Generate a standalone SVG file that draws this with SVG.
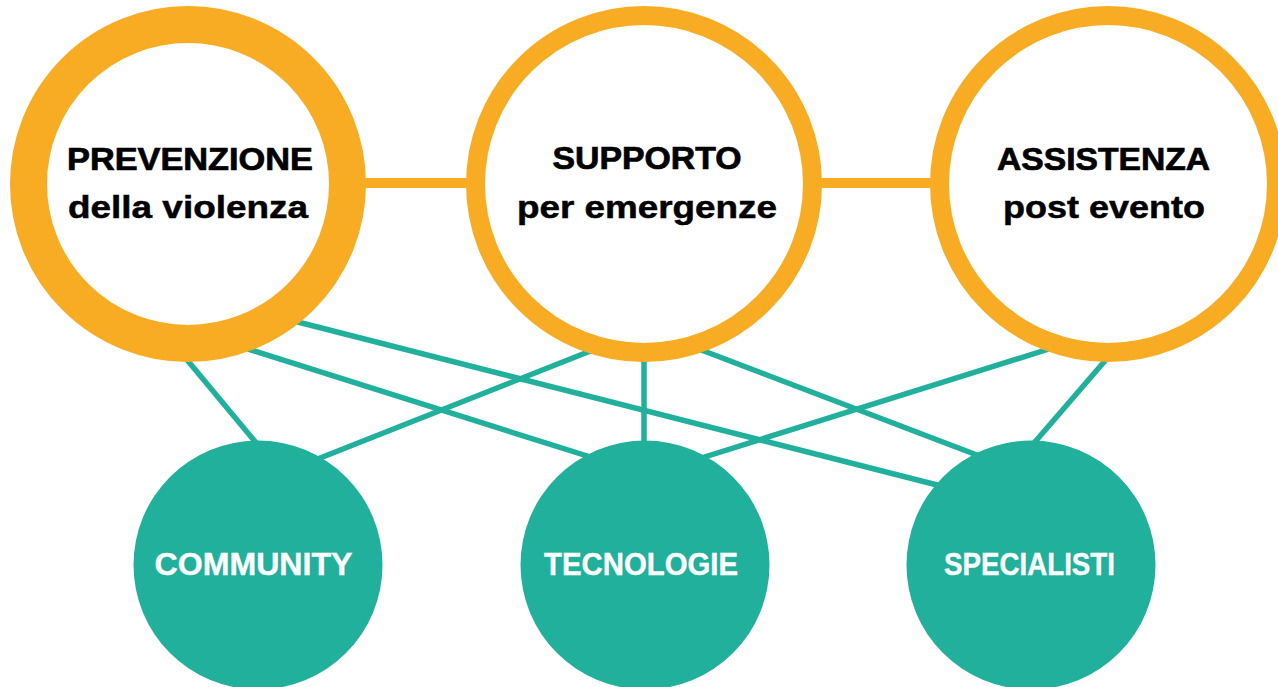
<svg xmlns="http://www.w3.org/2000/svg" width="1278" height="687" viewBox="0 0 1278 687">
<style>
.ring{fill:#ffffff;stroke:#F8AC23}
.teal{fill:#20B09B}
.h{stroke:#F8AC23;stroke-width:10}
.c{stroke:#20B09B;stroke-width:5.5;stroke-linecap:butt}
.t1{font-family:"Liberation Sans",Arial,sans-serif;font-weight:700;font-size:31px;fill:#000000;stroke:#000000;stroke-width:0.7;text-anchor:middle}
.t2{font-family:"Liberation Sans",Arial,sans-serif;font-weight:700;font-size:31px;fill:#000000;stroke:#000000;stroke-width:0.5;text-anchor:middle}
.tw{font-family:"Liberation Sans",Arial,sans-serif;font-weight:700;font-size:31px;fill:#ffffff;stroke:#ffffff;stroke-width:0.4;text-anchor:middle}
</style>
<rect width="1278" height="687" fill="#ffffff"/>
<g id="connectors">
<line class="h" x1="350" y1="183" x2="480" y2="183"/>
<line class="h" x1="810" y1="183" x2="945" y2="183"/>
<line class="c" x1="183" y1="355" x2="262" y2="450"/>
<line class="c" x1="235" y1="345" x2="600" y2="460"/>
<line class="c" x1="290" y1="320" x2="945" y2="487"/>
<line class="c" x1="598" y1="348" x2="310" y2="462"/>
<line class="c" x1="644" y1="355" x2="644" y2="450"/>
<line class="c" x1="696" y1="348" x2="990" y2="460"/>
<line class="c" x1="1052" y1="348" x2="695" y2="460"/>
<line class="c" x1="1110" y1="355" x2="1028" y2="450"/>
</g>
<g id="node-prevenzione">
<circle class="ring" cx="188" cy="184" r="159.5" stroke-width="37"/>
<text class="t1" x="190" y="170" textLength="246" lengthAdjust="spacingAndGlyphs">PREVENZIONE</text>
<text class="t2" x="188" y="218" textLength="240" lengthAdjust="spacingAndGlyphs">della violenza</text>
</g>
<g id="node-supporto">
<circle class="ring" cx="644" cy="184" r="168.5" stroke-width="19"/>
<text class="t1" x="647" y="169" textLength="189" lengthAdjust="spacingAndGlyphs">SUPPORTO</text>
<text class="t2" x="647" y="218" textLength="260" lengthAdjust="spacingAndGlyphs">per emergenze</text>
</g>
<g id="node-assistenza">
<circle class="ring" cx="1108" cy="184" r="168.5" stroke-width="19"/>
<text class="t1" x="1103.5" y="170" textLength="213" lengthAdjust="spacingAndGlyphs">ASSISTENZA</text>
<text class="t2" x="1104" y="218" textLength="202" lengthAdjust="spacingAndGlyphs">post evento</text>
</g>
<g id="node-community">
<circle class="teal" cx="258" cy="565" r="124.5"/>
<text class="tw" x="253.5" y="575" textLength="198" lengthAdjust="spacingAndGlyphs">COMMUNITY</text>
</g>
<g id="node-tecnologie">
<circle class="teal" cx="645" cy="565" r="124.5"/>
<text class="tw" x="641" y="575" textLength="194" lengthAdjust="spacingAndGlyphs">TECNOLOGIE</text>
</g>
<g id="node-specialisti">
<circle class="teal" cx="1031" cy="565" r="124.5"/>
<text class="tw" x="1029.5" y="575" textLength="171" lengthAdjust="spacingAndGlyphs">SPECIALISTI</text>
</g>
</svg>
